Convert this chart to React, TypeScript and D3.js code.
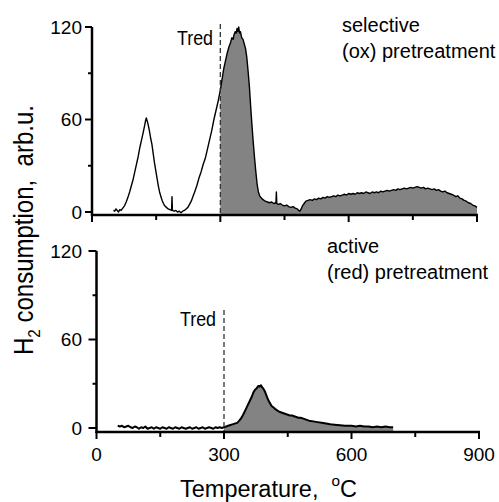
import React from "react";
import * as d3 from "d3";

// ---- data ----
const topTemps = [50,53,56,59,62,65,68,72,76,80,84,88,92,96,100,104,108,112,116,120,123,125,127,129,131,134,137,140,143,146,149,152,155,158,161,164,167,170,174,178,182,186,187,188,192,196,200,204,208,212,216,220,224,228,232,236,240,245,250,255,260,265,270,275,280,285,290,295,300,304,308,312,316,320,324,327,330,332,335,337,339,341,343,345,347,350,353,356,359,362,365,368,371,374,377,380,383,386,389,392,396,400,405,410,415,420,425,430,431,432,436,440,445,450,455,460,465,470,475,480,483,486,489,492,496,500,505,510,515,520,525,530,535,540,545,550,555,560,565,570,575,580,585,590,595,600,605,610,615,620,625,630,635,640,645,650,655,660,665,670,675,680,685,690,695,700,705,710,715,720,725,730,735,740,745,750,755,760,765,770,775,780,785,790,795,800,805,810,815,820,825,830,835,840,845,850,855,860,865,870,875,880,885,890,895,900];
const topValues = [1,0.5,2,1,0,1.5,1,2.5,4,6.5,9.5,13,17,21,26,31,36,42,47,52,56,59,61,59,57,53,48,44,38,32,27,22,17,13,10,7.5,5.5,4,3,2,1.5,1,10,1,0.5,1,0,0.5,-0.5,0.5,1,2,3,5,7,10,13,17,22,26,31,35,41,47,53,60,66,72,79,86,93,98,103,107,110,113,112,115,117,116,119,117,120,116,117,113,112,109,106,100,91,81,68,56,45,35,26,18,13,10.5,9,8,7,6.5,6,6.5,5.5,6,13,5.5,5,5.5,4.5,4,4.5,3.5,3,3.5,2.5,2,1,0.5,2,4,5.5,7,7.5,8,7.5,8.5,8,9,8.5,9.5,9,10,9.5,10,10.5,10,11,10.5,11,11.5,11,12,11.5,12,11.5,12.5,12,12.5,12,13,12.5,12,13,12.5,13,12.5,13.5,13,13.5,14,13.5,14,14.5,14,15,14.5,15,15.5,15,15.5,16,15.5,16,16.5,16,15.5,16,15,15.5,15,14.5,15,14,14.5,13.5,13,13.5,12.5,12,11.5,11,10,10.5,9,8.5,7.5,7,6,5.5,4.5,4,3];

const botTemps = [50,55,60,65,70,75,80,85,90,95,100,105,110,115,120,125,130,135,140,145,150,155,160,165,170,175,180,185,190,195,200,205,210,215,220,225,230,235,240,245,250,255,260,265,270,275,280,285,290,295,300,305,310,315,320,325,331,336,340,345,350,355,360,365,369,373,377,381,384,387,390,393,396,400,404,408,412,416,420,425,430,435,440,445,450,455,460,465,470,475,480,485,490,495,500,510,520,530,540,550,560,573,585,600,610,620,630,640,650,660,670,680,690,698];
const botValues = [1.5,1,1.5,0.5,1,1.5,0.5,0,1,0.5,-0.5,0.5,0,1,-0.5,0,0.5,-0.5,0.5,0,-0.5,0.5,0,-0.5,0.5,0,-0.5,0.5,0,-0.5,0.5,0,-0.5,0,0.5,-0.5,0,0.5,-0.5,0,0.5,-0.5,0,0.5,0,-0.5,0.5,0,0.5,0,0.5,1,1.5,2,2.5,3,3.5,5,6.5,9,12,15,18,21,24,26,27,28.5,28,29,27.5,26.5,25,22,19,17,15,14,13,12,11,10.5,10,9.5,9,8.5,8.5,8,7.5,7,7,6.5,6,5.5,5,4.5,4,3.5,3,2.5,2.2,1.8,1.5,1.5,1,1.5,1,1,0.5,1,0.5,1,0.5,0.5];

const tred = 300;
const yMajor = [0, 60, 120];
const yMinor = [30, 90];
const xMajor = [0, 300, 600, 900];
const xMinor = [150, 450, 750];
const topNote = ["selective", "(ox) pretreatment"];
const botNote = ["active", "(red) pretreatment"];

const FONT = "'Liberation Sans', Arial, Helvetica, sans-serif";
const GRAY = "#838383";

type PanelProps = {
  temps: number[];
  values: number[];
  x0: number; x1: number; yBottom: number; yTop: number; yMin: number;
  showXLabels: boolean;
  strokeW: number;
  dashTop: number;
  tredX: number; tredY: number;
  note: string[]; noteX: number; noteY: number;
  tickLen: number;
};

function Panel(p: PanelProps) {
  const x = d3.scaleLinear().domain([0, 900]).range([p.x0, p.x1]);
  const y = d3.scaleLinear().domain([p.yMin, 120]).range([p.yBottom, p.yTop]);
  const pts = p.temps.map((t, i) => [t, p.values[i]] as [number, number]);
  const line = d3.line<[number, number]>().x(d => x(d[0])).y(d => y(d[1]));
  const area = d3.area<[number, number]>().x(d => x(d[0])).y0(y(p.yMin)).y1(d => y(d[1]));
  const filled = pts.filter(d => d[0] >= tred);
  return (
    <g>
      <path d={area(filled) || ""} fill={GRAY} stroke="none" />
      <path d={line(pts) || ""} fill="none" stroke="#000" strokeWidth={p.strokeW} strokeLinejoin="round" />
      <line x1={x(tred)} x2={x(tred)} y1={p.dashTop} y2={p.yBottom} stroke="#333" strokeWidth={1.3} strokeDasharray="5,3" />
      <text x={p.tredX} y={p.tredY} fontSize={20} textAnchor="end" textLength={36} lengthAdjust="spacingAndGlyphs" fontFamily={FONT}>Tred</text>
      {/* axes */}
      <line x1={p.x0} x2={p.x0} y1={y(120)} y2={p.yBottom + 1} stroke="#000" strokeWidth={2.5} />
      <line x1={p.x0 - 1} x2={p.x1 + 1} y1={p.yBottom} y2={p.yBottom} stroke="#000" strokeWidth={2.5} />
      {yMajor.map(v => (
        <g key={"ym" + v}>
          <line x1={p.x0 - p.tickLen} x2={p.x0} y1={y(v)} y2={y(v)} stroke="#000" strokeWidth={2} />
          <text x={82} y={y(v)} dy="0.36em" textAnchor="end" fontSize={19} fontFamily={FONT}>{v}</text>
        </g>
      ))}
      {yMinor.map(v => (
        <line key={"yn" + v} x1={p.x0 - 4} x2={p.x0} y1={y(v)} y2={y(v)} stroke="#000" strokeWidth={2} />
      ))}
      {xMajor.map(v => (
        <g key={"xm" + v}>
          <line x1={x(v)} x2={x(v)} y1={p.yBottom} y2={p.yBottom + 7} stroke="#000" strokeWidth={2} />
          {p.showXLabels && (
            <text x={x(v)} y={p.yBottom + 29} textAnchor="middle" fontSize={19} fontFamily={FONT}>{v}</text>
          )}
        </g>
      ))}
      {xMinor.map(v => (
        <line key={"xn" + v} x1={x(v)} x2={x(v)} y1={p.yBottom} y2={p.yBottom + 5} stroke="#000" strokeWidth={2} />
      ))}
      {p.note.map((s, i) => (
        <text key={s} x={p.noteX} y={p.noteY + i * 26} fontSize={20} fontFamily={FONT}>{s}</text>
      ))}
    </g>
  );
}

export default function App() {
  return (
    <svg width={499} height={502} style={{ position: "absolute", left: 0, top: 0, background: "#fff" }}>
      <rect width={499} height={502} fill="#fff" />
      <Panel temps={topTemps} values={topValues} x0={92} x1={477} yBottom={215} yTop={27} yMin={-1.95}
        showXLabels={false} strokeW={1.4} dashTop={24} tredX={213} tredY={45}
        note={topNote} noteX={342} noteY={32} tickLen={7} />
      <Panel temps={botTemps} values={botValues} x0={96.5} x1={479} yBottom={432} yTop={251} yMin={-2.7}
        showXLabels={true} strokeW={2} dashTop={310} tredX={216} tredY={326}
        note={botNote} noteX={327} noteY={253} tickLen={8} />
      <text transform="translate(33,230) rotate(-90)" textAnchor="middle" fontSize={27} fontFamily={FONT}
        textLength={250} lengthAdjust="spacingAndGlyphs" style={{ whiteSpace: "pre" }}>
        H<tspan fontSize={17} dy={7}>2</tspan><tspan dy={-7}> consumption,  arb.u.</tspan>
      </text>
      <text x={180} y={497} fontSize={23} fontFamily={FONT} textLength={177} lengthAdjust="spacingAndGlyphs" style={{ whiteSpace: "pre" }}>
        Temperature,  <tspan fontSize={15} dy={-11}>o</tspan><tspan dy={11}>C</tspan>
      </text>
    </svg>
  );
}
